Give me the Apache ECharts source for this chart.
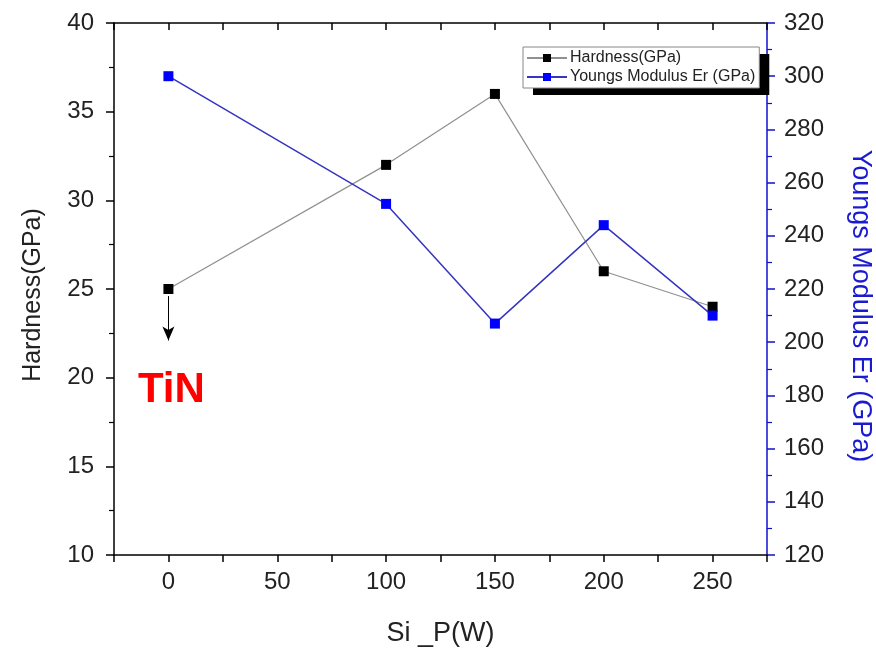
<!DOCTYPE html>
<html><head><meta charset="utf-8">
<script src="https://cdn.jsdelivr.net/npm/echarts@6/dist/echarts.min.js"></script>
<style>html,body{margin:0;padding:0;background:#fff}#c{width:876px;height:653px}</style>
</head><body><div id="c"></div>
<script>
const power = [0, 100, 150, 200, 250];
const hardness = [25, 32, 36, 26, 24];
const youngs = [300, 252, 207, 244, 210];
const arrowFrom = [0, 24.6];
const arrowTo = [0, 22.1];
const tinLabelAt = [0, 19.4];
const seriesNames = ['Hardness(GPa)', 'Youngs Modulus Er (GPa)'];

const font = 'Liberation Sans, Arial, sans-serif';
const chart = echarts.init(document.getElementById('c'), null, {renderer: 'canvas'});
const xCommon = {
  type: 'value', min: -25, max: 275, interval: 25,
  splitLine: {show: false},
  axisLine: {show: true, onZero: false, lineStyle: {color: '#000', width: 1.5}}
};
const legendBase = {
  left: 523, top: 47, orient: 'vertical', itemGap: 3,
  itemWidth: 40, itemHeight: 10,
  padding: [3, 4, 3, 3],
  selectedMode: false,
  textStyle: {fontFamily: font, fontSize: 16, color: '#222', padding: [0, 0, 0, -2]},
  data: seriesNames
};
chart.setOption({
  animation: false,
  backgroundColor: '#fff',
  grid: {left: 114, right: 109, top: 23, bottom: 98, containLabel: false, outerBoundsMode: 'none'},
  legend: [
    Object.assign({}, legendBase, {
      z: 4,
      backgroundColor: '#fff', borderWidth: 0,
      shadowColor: '#000', shadowBlur: 0, shadowOffsetX: 10, shadowOffsetY: 7,
      itemStyle: {opacity: 0}, lineStyle: {opacity: 0},
      textStyle: Object.assign({}, legendBase.textStyle, {color: 'rgba(0,0,0,0)'})
    }),
    Object.assign({}, legendBase, {
      z: 5,
      backgroundColor: 'rgba(0,0,0,0)', borderColor: '#888', borderWidth: 1
    })
  ],
  xAxis: [
    Object.assign({}, xCommon, {
      position: 'bottom',
      name: 'Si _P(W)', nameLocation: 'middle', nameGap: 65,
      nameTextStyle: {fontFamily: font, fontSize: 27, color: '#222'},
      axisTick: {show: true, inside: false, length: 7, lineStyle: {color: '#000', width: 1.5}},
      axisLabel: {margin: 15, fontFamily: font, fontSize: 24, color: '#222',
        formatter: v => (v >= 0 && v <= 250 && v % 50 === 0) ? String(v) : ''}
    }),
    Object.assign({}, xCommon, {
      position: 'top',
      axisTick: {show: true, inside: true, length: 7, lineStyle: {color: '#000', width: 1.5}},
      axisLabel: {show: false}
    })
  ],
  yAxis: [
    {
      type: 'value', position: 'left', min: 10, max: 40, interval: 5,
      name: 'Hardness(GPa)', nameLocation: 'middle', nameGap: 68, nameRotate: 90,
      nameTextStyle: {fontFamily: font, fontSize: 25, color: '#222', padding: [0, 12, 0, 0]},
      splitLine: {show: false},
      axisLine: {show: true, onZero: false, lineStyle: {color: '#000', width: 1.5}},
      axisTick: {show: true, inside: false, length: 8, lineStyle: {color: '#000', width: 1.5}},
      minorTick: {show: true, splitNumber: 2, length: 5, lineStyle: {color: '#000', width: 1.2}},
      axisLabel: {margin: 20, fontFamily: font, fontSize: 24, color: '#222'}
    },
    {
      type: 'value', position: 'right', min: 120, max: 320, interval: 20,
      name: 'Youngs Modulus Er (GPa)', nameLocation: 'middle', nameGap: 80, nameRotate: -90,
      nameTextStyle: {fontFamily: font, fontSize: 27, color: '#1a1ad0', padding: [0, 0, 0, 34]},
      splitLine: {show: false},
      axisLine: {show: true, onZero: false, lineStyle: {color: '#1010d0', width: 1.5}},
      axisTick: {show: true, inside: false, length: 8, lineStyle: {color: '#1010d0', width: 1.5}},
      minorTick: {show: true, splitNumber: 2, length: 5, lineStyle: {color: '#1010d0', width: 1.2}},
      axisLabel: {margin: 17, fontFamily: font, fontSize: 24, color: '#222'}
    }
  ],
  series: [
    {
      name: seriesNames[0], type: 'line', xAxisIndex: 0, yAxisIndex: 0,
      data: power.map((p, i) => [p, hardness[i]]),
      symbol: 'rect', symbolSize: 10,
      itemStyle: {color: '#000'},
      lineStyle: {color: '#909090', width: 1.2},
      markLine: {
        silent: true, symbol: ['none', 'arrow'], symbolSize: [9, 14],
        label: {show: false},
        lineStyle: {color: '#000', width: 1, type: 'solid'},
        data: [[{coord: arrowFrom}, {coord: arrowTo}]]
      },
      markPoint: {
        silent: true, symbol: 'rect', symbolSize: 1,
        itemStyle: {color: 'rgba(0,0,0,0)'},
        label: {show: true, position: 'inside', formatter: 'TiN', offset: [3, 2],
          fontFamily: font, fontSize: 42, fontWeight: 'bold', color: '#ff0000'},
        data: [{coord: tinLabelAt}]
      },
      z: 3
    },
    {
      name: seriesNames[1], type: 'line', xAxisIndex: 0, yAxisIndex: 1,
      data: power.map((p, i) => [p, youngs[i]]),
      symbol: 'rect', symbolSize: 10,
      itemStyle: {color: '#0000ff'},
      lineStyle: {color: '#3535c0', width: 1.5},
      z: 4
    }
  ]
});
</script>
</body></html>
